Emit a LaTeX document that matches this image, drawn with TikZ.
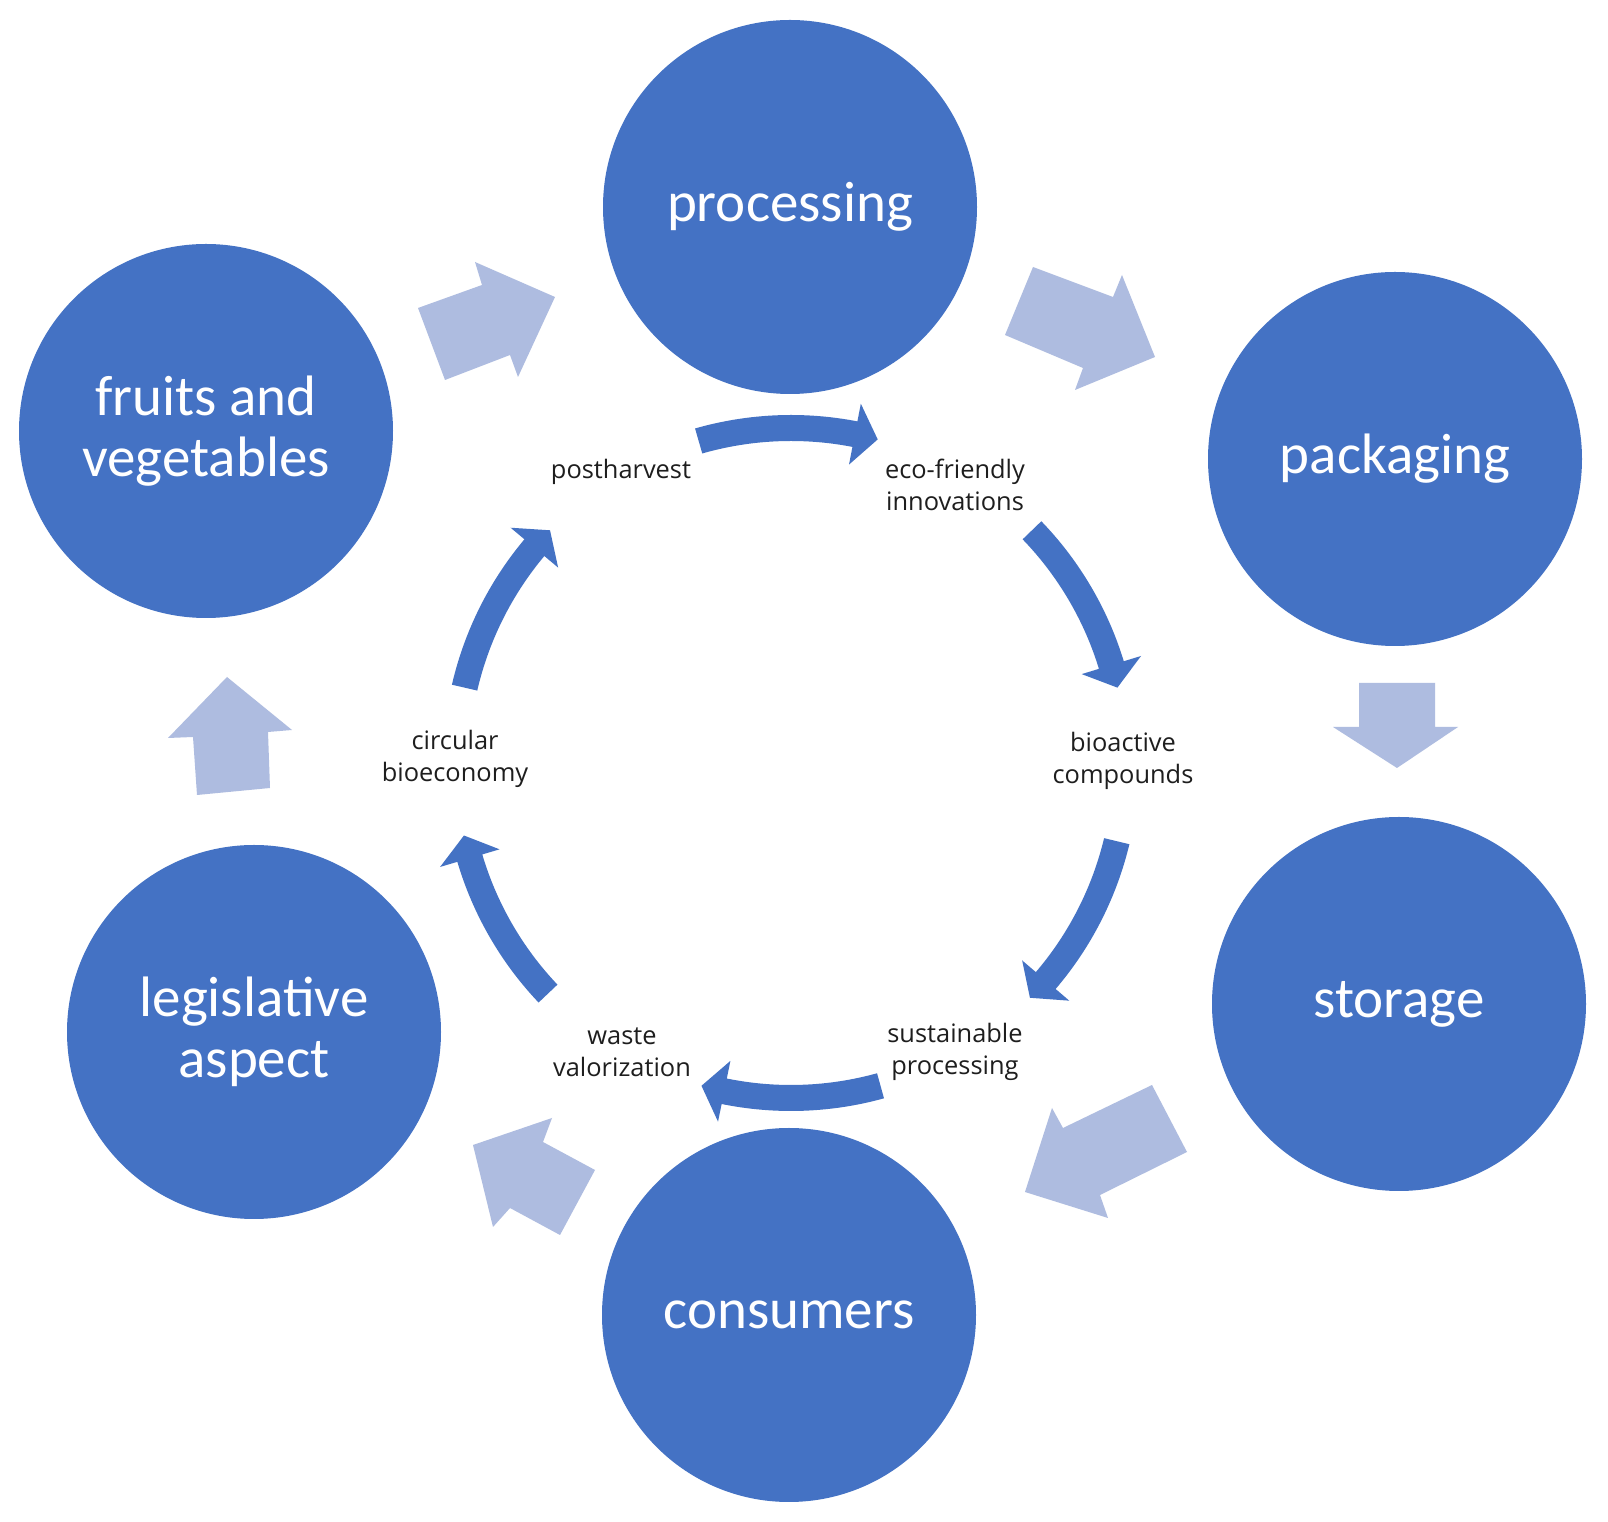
\documentclass[tikz,border=0pt]{standalone}
\usepackage{fontspec}
\setmainfont{Carlito}
\newfontfamily\labelfont{Open Sans}
\definecolor{darkblue}{RGB}{68,114,196}
\definecolor{lightblue}{RGB}{174,188,224}
\definecolor{labelgray}{RGB}{30,30,30}
\begin{document}
\begin{tikzpicture}[x=0.5pt,y=0.5pt,
  bigcircle/.style={circle,fill=darkblue,draw=none,minimum size=187pt,inner sep=0pt,
    text=white,align=center,font=\fontsize{28.5pt}{30.8pt}\selectfont},
  smalllabel/.style={align=center,inner sep=0pt,text=labelgray,
    font=\labelfont\fontsize{12.7pt}{16pt}\selectfont},
  blockarrow/.style={fill=lightblue,draw=none},
  cyclearrow/.style={fill=darkblue,draw=none}]
\useasboundingbox[fill=white] (0,0) rectangle (1608,1522);

% main circles
\node[bigcircle] (proc) at (790,1315) {processing};
\node[bigcircle] (fruit) at (206,1091) {fruits and\\vegetables};
\node[bigcircle] (pack) at (1395,1063) {packaging};
\node[bigcircle] (stor) at (1399,518) {storage};
\node[bigcircle] (cons) at (789,207) {consumers};
\node[bigcircle] (legi) at (254,490) {legislative\\aspect};

% block arrows between circles
\fill[blockarrow] (418,1214) -- (482,1237) -- (475,1260) -- (555,1225) -- (518,1145) -- (510,1167) -- (445,1142) -- cycle;
\fill[blockarrow] (1033,1255) -- (1113,1225) -- (1122,1247) -- (1155,1165) -- (1075,1132) -- (1083,1154) -- (1005,1187) -- cycle;
\fill[blockarrow] (1359,839) -- (1435,839) -- (1435,795) -- (1458,795) -- (1397,754) -- (1333,795) -- (1359,795) -- cycle;
\fill[blockarrow] (1152,437) -- (1063,394) -- (1052,414) -- (1025,330) -- (1108,304) -- (1100,327) -- (1187,370) -- cycle;
\fill[blockarrow] (595,352) -- (543,380) -- (552,404) -- (473,377) -- (493,295) -- (510,314) -- (560,287) -- cycle;
\fill[blockarrow] (227,845) -- (292,792) -- (268,790) -- (270,734) -- (197,727) -- (193,785) -- (168,784) -- cycle;

% inner cycle
\coordinate (C) at (791,759);
\foreach \c in {90.5,28.5,-29,-90,-152,151.5}{
  \pgfmathsetmacro{\ta}{\c+15.5}
  \pgfmathsetmacro{\hb}{\c-11.5}
  \pgfmathsetmacro{\tp}{\c-15.5}
  \fill[cyclearrow] ([shift={(C)}]\ta:348) arc[start angle=\ta, end angle=\hb, radius=174pt]
    -- ([shift={(C)}]\hb:366) -- ([shift={(C)}]\tp:335) -- ([shift={(C)}]\hb:304)
    -- ([shift={(C)}]\hb:322) arc[start angle=\hb, end angle=\ta, radius=161pt] -- cycle;
}

% inner labels
\node[smalllabel] (lpost) at (621,1050) {postharvest};
\node[smalllabel] (leco) at (955,1037) {eco-friendly\\innovations};
\node[smalllabel] (lbio) at (1123,761) {bioactive\\compounds};
\node[smalllabel] (lsus) at (955,470) {sustainable\\processing};
\node[smalllabel] (lwaste) at (622,470) {waste\\valorization};
\node[smalllabel] (lcirc) at (455,763) {circular\\bioeconomy};
\end{tikzpicture}
\end{document}
